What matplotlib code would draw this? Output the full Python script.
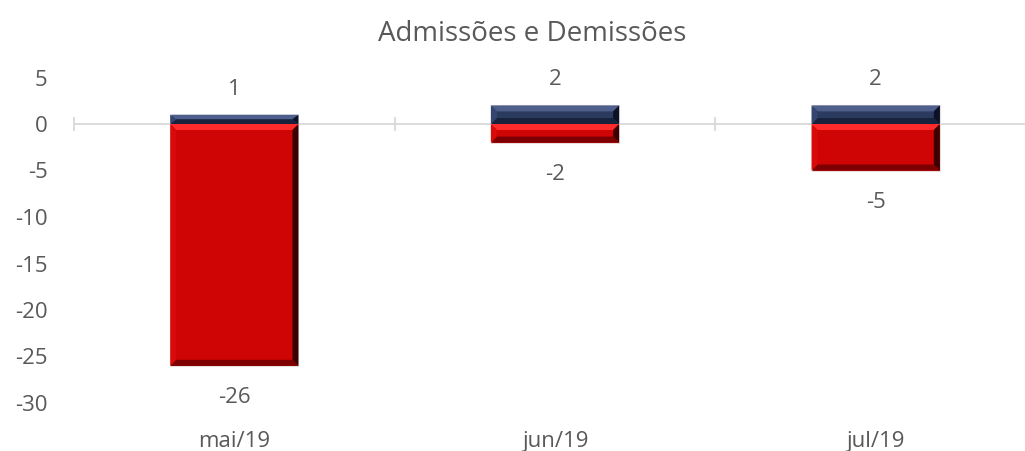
import matplotlib.pyplot as plt
from matplotlib.patches import Polygon

meses = ['mai/19', 'jun/19', 'jul/19']
admissoes = [1, 2, 2]
demissoes = [-26, -2, -5]

cor_texto = '#595959'
plt.rcParams['font.family'] = ['Open Sans', 'DejaVu Sans']
plt.rcParams['axes.unicode_minus'] = False

fig = plt.figure(figsize=(10.25, 4.51), dpi=100)
W, H = 1025.0, 451.0
ax = fig.add_axes([74 / W, 1 - 403 / H, (1036 - 74) / W, (403 - 77.5) / H])
ax.set_xlim(-0.5, 2.5)
ax.set_ylim(-30, 5)

largura = 0.4
estilos = {
    'pos': dict(face='#2b3a5f', top='#4f5f8c', left='#34456f', bottom='#18223d', right='#0c1326'),
    'neg': dict(face='#cf0404', top='#ff2a2a', left='#d80a0a', bottom='#7d0000', right='#3c0000'),
}

# conversion pixels -> data
ppx = ax.transData.transform((1, 0))[0] - ax.transData.transform((0, 0))[0]
ppy = ax.transData.transform((0, 1))[1] - ax.transData.transform((0, 0))[1]


def barra_bisel(x, y0, y1, st, b=6):
    x0, x1 = x - largura / 2, x + largura / 2
    lo, hi = min(y0, y1), max(y0, y1)
    bx = b / ppx
    by = min(b / ppy, (hi - lo) / 2)
    ax.bar(x, hi - lo, largura, bottom=lo, color=st['face'], edgecolor='#e6dede', linewidth=0.8, zorder=2)
    polys = [
        ([(x0, hi), (x1, hi), (x1 - bx, hi - by), (x0 + bx, hi - by)], st['top']),
        ([(x0, lo), (x1, lo), (x1 - bx, lo + by), (x0 + bx, lo + by)], st['bottom']),
        ([(x0, lo), (x0, hi), (x0 + bx, hi - by), (x0 + bx, lo + by)], st['left']),
        ([(x1, lo), (x1, hi), (x1 - bx, hi - by), (x1 - bx, lo + by)], st['right']),
    ]
    for pts, c in polys:
        ax.add_patch(Polygon(pts, closed=True, facecolor=c, edgecolor='none', zorder=3))


for i, (a, d) in enumerate(zip(admissoes, demissoes)):
    barra_bisel(i, 0, a, estilos['pos'])
    barra_bisel(i, 0, d, estilos['neg'])
    ax.annotate(str(a), (i, a), xytext=(0, 18.5), textcoords='offset points',
                ha='center', va='center', fontsize=16, color=cor_texto)
    ax.annotate(str(d), (i, d), xytext=(0, -23), textcoords='offset points',
                ha='center', va='center', fontsize=16, color=cor_texto)

# zero line with category separators
ax.axhline(0, color='#d9d9d9', linewidth=1.3, zorder=1)
for xb in [-0.5, 0.5, 1.5]:
    ax.plot([xb, xb], [-0.6, 0.6], color='#d9d9d9', linewidth=1.3, zorder=1, clip_on=False)

for s in ax.spines.values():
    s.set_visible(False)
ax.set_yticks(range(-30, 6, 5))
ax.set_xticks(range(len(meses)))
ax.set_xticklabels(meses)
ax.tick_params(axis='y', length=0, pad=19, labelsize=16, labelcolor=cor_texto)
ax.tick_params(axis='x', length=0, pad=20, labelsize=16, labelcolor=cor_texto)

fig.text(532 / W, 1 - 34 / H, 'Admissões e Demissões', ha='center', va='center',
         fontsize=20, color=cor_texto)

fig.savefig('out.png', dpi=100)
